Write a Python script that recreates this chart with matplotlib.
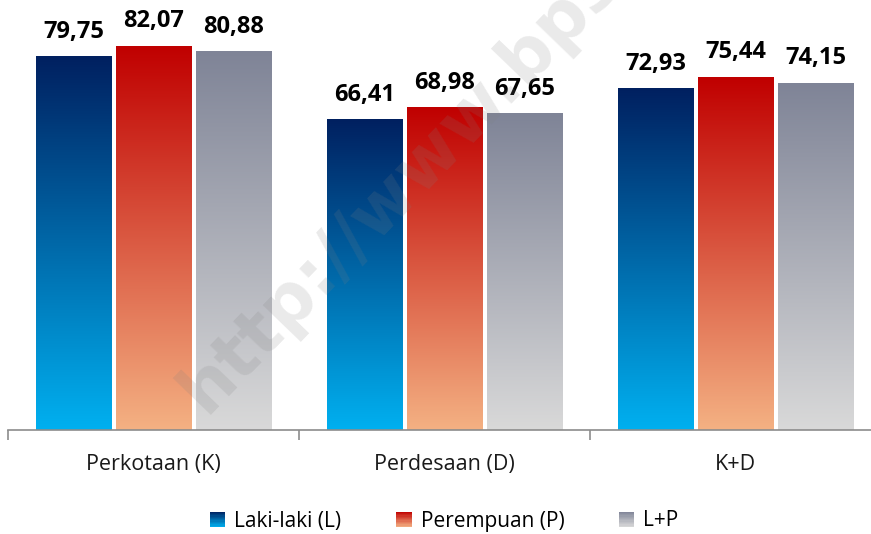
import numpy as np
import matplotlib
matplotlib.use("Agg")
import matplotlib.pyplot as plt
from matplotlib.colors import LinearSegmentedColormap
from matplotlib.patches import Rectangle
from matplotlib.legend_handler import HandlerBase

# data
categories = ["Perkotaan (K)", "Perdesaan (D)", "K+D"]
series = ["Laki-laki (L)", "Perempuan (P)", "L+P"]
laki = [79.75, 66.41, 72.93]
perempuan = [82.07, 68.98, 75.44]
lp = [80.88, 67.65, 74.15]
labels = [["79,75", "66,41", "72,93"],
          ["82,07", "68,98", "75,44"],
          ["80,88", "67,65", "74,15"]]

# gradients top -> bottom
grads = [("#002060", "#00B0F0"), ("#C00000", "#F4B183"), ("#7F8497", "#D9D9D9")]
cmaps = [LinearSegmentedColormap.from_list("g%d" % i, [b, t]) for i, (t, b) in enumerate(grads)]

plt.rcParams['font.family'] = ['Open Sans', 'DejaVu Sans']

fig = plt.figure(figsize=(8.71, 5.34), dpi=100)
ax = fig.add_axes([8/871, 104/534, 873/871, 421/534])
ax.set_xlim(-0.5, 2.5)
ax.set_ylim(0, 90)

width = 0.26
offs = [-0.275, 0, 0.275]
grad = np.linspace(0, 1, 256).reshape(-1, 1)

for s, vals in enumerate([laki, perempuan, lp]):
    for i, v in enumerate(vals):
        x0 = i + offs[s] - width/2
        ax.imshow(grad, cmap=cmaps[s], origin='lower', aspect='auto',
                  extent=[x0, x0 + width, 0, v], zorder=2)
        ax.annotate(labels[s][i], (i + offs[s], v), xytext=(0, 13.5),
                    textcoords='offset points', ha='center', va='baseline',
                    fontsize=17, fontweight='bold', color='black')

ax.set_xlim(-0.5, 2.5)
ax.set_ylim(0, 90)
for sp in ['top', 'right', 'left']:
    ax.spines[sp].set_visible(False)
ax.spines['bottom'].set_color('#8c8c8c')
ax.spines['bottom'].set_linewidth(1.2)
ax.set_yticks([])
ax.set_xticks([-0.5, 0.5, 1.5, 2.5], minor=False)
ax.set_xticklabels([])
ax.tick_params(axis='x', length=7, color='#8c8c8c', width=1.2)
for i, c in enumerate(categories):
    ax.text(i, -7.3, c, ha='center', va='center', fontsize=15.5, color='#1a1a1a')

# watermark (runs off the top edge, as in the source image)
fig.text(205/871, 1 - 415/534, "http://www.bps.go.id", rotation=46, fontsize=50,
         fontweight='bold', family='DejaVu Sans', color='#808080', alpha=0.17,
         ha='left', va='baseline', rotation_mode='anchor', zorder=10)


class GradHandler(HandlerBase):
    def __init__(self, cmap):
        super().__init__()
        self.cmap = cmap

    def create_artists(self, legend, orig, xd, yd, w, h, fontsize, trans):
        n = 12
        arts = []
        s = h * 1.05
        x = xd + (w - s) / 2
        for k in range(n):
            col = self.cmap(1 - (k + 0.5) / n)
            arts.append(Rectangle((x, yd + (h - s) / 2 + s * (n - 1 - k) / n), s, s / n,
                                  facecolor=col, edgecolor='none', transform=trans))
        return arts


handles = [Rectangle((0, 0), 1, 1) for _ in series]
fig.legend(handles, series, loc='center', bbox_to_anchor=(444/871, 1 - 521/534),
           ncol=3, frameon=False, fontsize=15, handlelength=0.8, handletextpad=0.4,
           columnspacing=2.6,
           handler_map={h: GradHandler(cm) for h, cm in zip(handles, cmaps)})

fig.savefig("out.png", dpi=100)
